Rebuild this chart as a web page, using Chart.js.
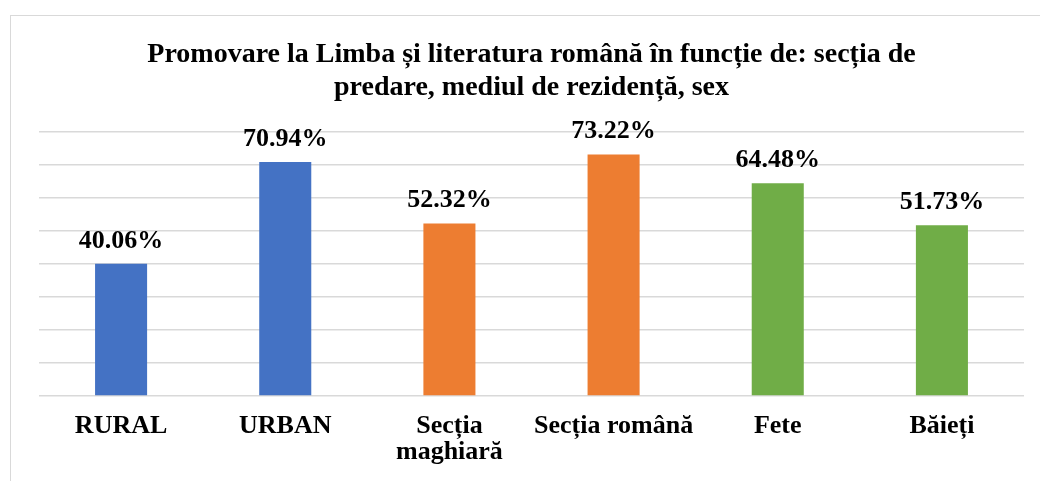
<!DOCTYPE html>
<html>
<head>
<meta charset="utf-8">
<script src="https://cdn.jsdelivr.net/npm/chart.js@4/dist/chart.umd.min.js"></script>
<style>
  html, body { margin: 0; padding: 0; background: #fff; }
  #wrap { position: relative; width: 1040px; height: 481px; }
  #frame {
    position: absolute; left: 10px; top: 15px; right: 0; bottom: 0;
    border-left: 1.5px solid #d9d9d9; border-top: 1.5px solid #d9d9d9;
    pointer-events: none;
  }
  canvas { position: absolute; left: 0; top: 0; }
</style>
</head>
<body>
<div id="wrap">
  <canvas id="chart" width="1040" height="481"></canvas>
  <div id="frame"></div>
</div>
<script>
const categories = ['RURAL', 'URBAN', ['Secția', 'maghiară'], 'Secția română', 'Fete', 'Băieți'];
const values = [40.06, 70.94, 52.32, 73.22, 64.48, 51.73];
const barColors = ['#4472C4', '#4472C4', '#ED7D31', '#ED7D31', '#70AD47', '#70AD47'];

const serif = '"Liberation Serif", "Times New Roman", serif';

// draws the percentage above each bar
const valueLabels = {
  id: 'valueLabels',
  afterDatasetsDraw(chart) {
    const ctx = chart.ctx;
    const meta = chart.getDatasetMeta(0);
    ctx.save();
    ctx.font = 'bold 26px ' + serif;
    ctx.fillStyle = '#000';
    ctx.textAlign = 'center';
    ctx.textBaseline = 'alphabetic';
    meta.data.forEach((bar, i) => {
      ctx.fillText(values[i].toFixed(2) + '%', bar.x, bar.y - 16);
    });
    ctx.restore();
  }
};

new Chart(document.getElementById('chart'), {
  type: 'bar',
  data: {
    labels: categories,
    datasets: [{
      data: values,
      backgroundColor: barColors,
      barPercentage: 0.317,
      categoryPercentage: 1
    }]
  },
  options: {
    responsive: false,
    animation: false,
    layout: { padding: { left: 39, right: 16, top: 0, bottom: 0 } },
    plugins: {
      legend: { display: false },
      tooltip: { enabled: false },
      title: {
        display: true,
        text: ['Promovare la Limba și literatura română în funcție de: secția de', 'predare, mediul de rezidență, sex'],
        color: '#000',
        font: { family: serif, size: 28, weight: 'bold', lineHeight: 1.18 },
        padding: { top: 38, bottom: 28 }
      }
    },
    scales: {
      x: {
        grid: { display: false, drawTicks: false },
        border: { display: false },
        afterFit: (scale) => { scale.height = 85; },
        ticks: {
          color: '#000',
          padding: 17,
          maxRotation: 0,
          autoSkip: false,
          font: { family: serif, size: 26, weight: 'bold', lineHeight: 1.0 }
        }
      },
      y: {
        min: 0,
        max: 80,
        ticks: { display: false, stepSize: 10 },
        border: { display: false },
        grid: { color: '#d9d9d9', lineWidth: 1.5, drawTicks: false }
      }
    }
  },
  plugins: [valueLabels]
});
</script>
</body>
</html>
